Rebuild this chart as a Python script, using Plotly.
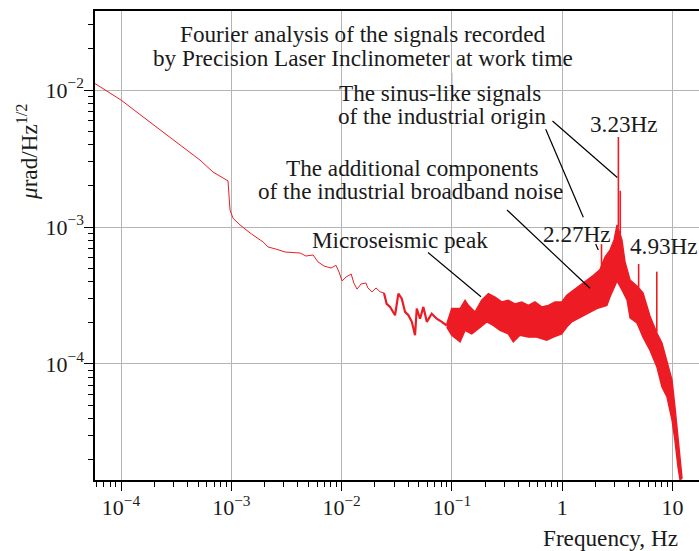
import plotly.graph_objects as go

# ---------------- data ----------------
# smooth low-frequency part of the spectrum (single thin line)
line_freq = [5.81e-5, 1.0e-4, 1.83e-4, 3.43e-4, 5.2e-4, 6.82e-4, 9.33e-4, 9.73e-4,
             1.035e-3, 1.20e-3, 1.48e-3, 1.94e-3, 2.15e-3, 2.54e-3, 3.07e-3, 4.20e-3,
             4.75e-3, 5.51e-3, 6.11e-3, 6.92e-3, 8.02e-3, 8.89e-3, 9.46e-3, 1.01e-2,
             1.10e-2, 1.22e-2, 1.29e-2, 1.38e-2, 1.50e-2, 1.66e-2, 1.73e-2, 1.89e-2,
             2.05e-2, 2.23e-2, 2.42e-2]
line_amp = [1.115e-2, 8.45e-3, 5.83e-3, 3.97e-3, 3.08e-3, 2.52e-3, 2.17e-3, 1.33e-3,
            1.16e-3, 1.035e-3, 9.04e-4, 7.78e-4, 7.15e-4, 6.90e-4, 6.57e-4, 6.46e-4,
            6.14e-4, 6.25e-4, 5.56e-4, 5.19e-4, 5.02e-4, 5.25e-4, 4.70e-4, 4.04e-4,
            4.32e-4, 4.54e-4, 3.90e-4, 3.52e-4, 3.84e-4, 3.90e-4, 3.59e-4, 3.36e-4,
            3.59e-4, 3.36e-4, 3.30e-4]

# noisier (thicker) part between 0.024 and 0.09 Hz
noisy_freq = [2.42e-2, 2.56e-2, 2.75e-2, 3.05e-2, 3.27e-2, 3.51e-2, 3.76e-2, 4.03e-2,
              4.33e-2, 4.63e-2, 4.80e-2, 5.14e-2, 5.51e-2, 5.92e-2, 6.56e-2, 7.28e-2,
              8.09e-2, 8.97e-2]
noisy_amp = [3.30e-4, 2.75e-4, 2.61e-4, 2.27e-4, 3.26e-4, 3.00e-4, 2.40e-4, 2.27e-4,
             2.03e-4, 1.62e-4, 2.54e-4, 2.14e-4, 2.61e-4, 2.03e-4, 2.33e-4, 2.14e-4,
             2.03e-4, 1.91e-4]

# dense noisy band: upper envelope
upper_freq = [8.97e-2, 9.96e-2, 0.1186, 0.1315, 0.141, 0.162, 0.186, 0.214, 0.246,
              0.283, 0.324, 0.373, 0.429, 0.493, 0.566, 0.652, 0.748, 0.861, 0.989,
              1.10, 1.26, 1.45, 1.67, 1.92, 2.20, 2.44, 2.71, 2.95, 3.14, 3.48, 3.71,
              4.12, 4.76, 5.40, 6.24, 7.22, 8.02, 8.91, 9.89, 10.5, 11.2, 12.2]
upper_amp = [1.96e-4, 2.54e-4, 2.54e-4, 2.92e-4, 2.68e-4, 2.40e-4, 2.92e-4, 3.26e-4,
             3.08e-4, 2.84e-4, 2.92e-4, 2.75e-4, 2.84e-4, 2.68e-4, 2.84e-4, 2.61e-4,
             2.68e-4, 2.84e-4, 2.84e-4, 3.17e-4, 3.45e-4, 3.75e-4, 4.08e-4, 4.44e-4,
             4.90e-4, 6.04e-4, 6.79e-4, 8.04e-4, 1.035e-3, 8.04e-4, 5.56e-4, 4.10e-4,
             3.71e-4, 3.30e-4, 2.24e-4, 1.68e-4, 1.42e-4, 1.02e-4, 7.64e-5, 4.93e-5,
             2.98e-5, 1.47e-5]

# dense noisy band: lower envelope
lower_freq = [8.97e-2, 9.96e-2, 0.1186, 0.1315, 0.151, 0.174, 0.207, 0.237, 0.273,
              0.324, 0.360, 0.414, 0.493, 0.586, 0.723, 0.830, 0.989, 1.10, 1.22, 1.35,
              1.56, 1.79, 2.06, 2.54, 2.71, 3.14, 3.48, 3.87, 4.12, 4.76, 5.40, 6.24,
              7.22, 8.02, 8.91, 9.89, 10.5, 11.2, 11.7]
lower_amp = [1.86e-4, 1.62e-4, 1.45e-4, 1.76e-4, 1.66e-4, 1.81e-4, 2.03e-4, 1.91e-4,
             1.76e-4, 1.66e-4, 1.45e-4, 1.62e-4, 1.57e-4, 1.57e-4, 1.49e-4, 1.57e-4,
             1.66e-4, 1.86e-4, 2.03e-4, 2.14e-4, 2.27e-4, 2.40e-4, 2.54e-4, 2.68e-4,
             3.08e-4, 4.04e-4, 3.47e-4, 2.93e-4, 2.17e-4, 1.99e-4, 1.57e-4, 1.26e-4,
             9.51e-5, 6.79e-5, 5.74e-5, 3.90e-5, 2.79e-5, 1.77e-5, 1.42e-5]

# narrow spectral lines (frequency, band level at the base, peak level)
spike_freq = [2.27, 3.23, 3.36, 4.93, 7.20]
spike_base = [5.0e-4, 1.0e-3, 8.0e-4, 3.6e-4, 1.7e-4]
spike_peak = [7.5e-4, 4.54e-3, 1.84e-3, 5.37e-4, 4.72e-4]

x_tick_vals = [1e-4, 1e-3, 1e-2, 1e-1, 1, 10]
x_tick_text = ["10<sup>\u22124</sup>", "10<sup>\u22123</sup>", "10<sup>\u22122</sup>",
               "10<sup>\u22121</sup>", "1", "10"]
y_tick_vals = [1e-4, 1e-3, 1e-2]
y_tick_text = ["10<sup>\u22124</sup>", "10<sup>\u22123</sup>", "10<sup>\u22122</sup>"]

# ---------------- figure ----------------
RED = "#ED1C24"
FONT = "Liberation Serif"
TXT = "#1a1a1a"
W, H = 699, 551
L, R, T, B = 95, 699, 11, 480


def P(px, py):
    """pixel position in the picture -> paper coordinates"""
    return (px - L) / (R - L), (B - py) / (B - T)


fig = go.Figure()

fig.add_trace(go.Scatter(x=line_freq, y=line_amp, mode="lines",
                         line=dict(color=RED, width=1), hoverinfo="skip"))
fig.add_trace(go.Scatter(x=noisy_freq, y=noisy_amp, mode="lines",
                         line=dict(color=RED, width=2.2), hoverinfo="skip"))

band_x = upper_freq + lower_freq[::-1]
band_y = upper_amp + lower_amp[::-1]
fig.add_trace(go.Scatter(x=band_x, y=band_y, mode="lines", fill="toself",
                         fillcolor=RED, line=dict(color=RED, width=1.4),
                         hoverinfo="skip"))

sx, sy = [], []
for f, b, p in zip(spike_freq, spike_base, spike_peak):
    sx += [f, f, None]
    sy += [b, p, None]
fig.add_trace(go.Scatter(x=sx, y=sy, mode="lines", line=dict(color=RED, width=1.6),
                         hoverinfo="skip"))

minor_x = [m * 10 ** e for e in range(-5, 2) for m in range(2, 10)]
minor_y = [m * 10 ** e for e in range(-6, -1) for m in range(2, 10)]

axis_common = dict(
    type="log", showline=True, linecolor="black", linewidth=1.5,
    ticks="outside", ticklen=9, tickwidth=1.2, tickcolor="black",
    showgrid=True, gridcolor="#b4b4b4", gridwidth=1.2, zeroline=False,
    tickfont=dict(family=FONT, size=22, color=TXT),
)

fig.update_xaxes(range=[-4.236, 1.24], tickmode="array", tickvals=x_tick_vals,
                 ticktext=x_tick_text, mirror=True, ticklabelstandoff=-2,
                 minor=dict(tickmode="array", tickvals=minor_x, ticks="outside",
                            ticklen=5, tickwidth=1, tickcolor="black", showgrid=False),
                 **axis_common)
fig.update_yaxes(range=[-4.847, -1.423], tickmode="array", tickvals=y_tick_vals,
                 ticktext=y_tick_text, mirror=False, ticklabelstandoff=-4,
                 minor=dict(tickmode="array", tickvals=minor_y, ticks="outside",
                            ticklen=5, tickwidth=1, tickcolor="black", showgrid=False),
                 **axis_common)

# white boxes behind the texts hide the grid lines there
shapes = []
for (x0, y0, x1, y1) in [(140, 11, 590, 73), (330, 73, 566, 91)]:
    a0, b0 = P(x0, y1)
    a1, b1 = P(x1, y0)
    shapes.append(dict(type="rect", xref="paper", yref="paper", x0=a0, x1=a1,
                       y0=b0, y1=b1, fillcolor="white", line=dict(width=0),
                       layer="between"))
# the 0.1 Hz grid line continues through the lower box
shapes.append(dict(type="line", xref="x", yref="paper", x0=0.1, x1=0.1,
                   y0=P(0, 91)[1], y1=P(0, 73)[1],
                   line=dict(color="#b4b4b4", width=1.2), layer="between"))

# leader lines of the annotations
for (x0, y0, x1, y1) in [(552.5, 121, 617.3, 177.5), (545.7, 129.3, 583.3, 217.3),
                         (595.7, 244, 598.3, 250), (507, 210, 590, 288.3),
                         (428, 252.5, 481, 296.7)]:
    a0, b0 = P(x0, y0)
    a1, b1 = P(x1, y1)
    shapes.append(dict(type="line", xref="paper", yref="paper", x0=a0, y0=b0,
                       x1=a1, y1=b1, line=dict(color="black", width=1.2),
                       layer="above"))

annots = []


def text(t, px, py, size=23.2, angle=0):
    x, y = P(px, py)
    annots.append(dict(text=t, x=x, y=y, xref="paper", yref="paper",
                       xanchor="center", yanchor="middle", showarrow=False,
                       textangle=angle, font=dict(family=FONT, size=size, color=TXT)))


text("Fourier analysis of the signals recorded", 363, 34)
text("by Precision Laser Inclinometer at work time", 363, 58)
text("The sinus-like signals", 440, 93)
text("of the industrial origin", 442, 116)
text("3.23Hz", 624, 124)
text("The additional components", 412, 168)
text("of the industrial broadband noise", 410, 191)
text("Microseismic peak", 400, 240)
text("2.27Hz", 577, 234)
text("4.93Hz", 664, 246)
text("Frequency, Hz", 610, 538)
text("<i>\u03bc</i>rad/Hz<sup>1/2</sup>", 27, 152, angle=-90)

fig.update_layout(
    width=W, height=H, showlegend=False,
    margin=dict(l=L, r=W - R, t=T, b=H - B),
    paper_bgcolor="white", plot_bgcolor="white",
    shapes=shapes, annotations=annots,
)

fig.write_html("out.html")
